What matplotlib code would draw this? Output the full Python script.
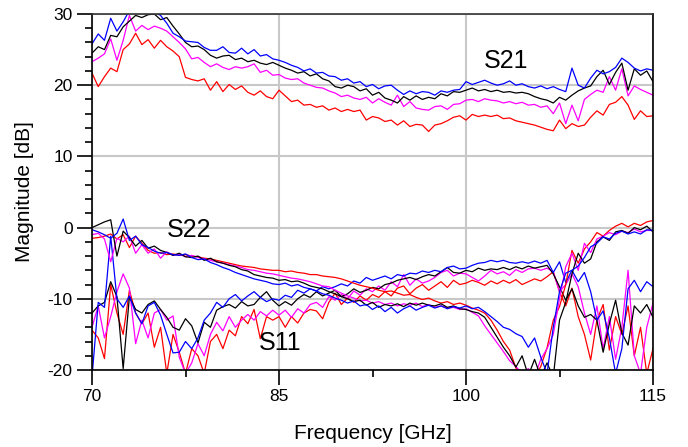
import numpy as np
import matplotlib.pyplot as plt
import matplotlib as mpl

# frequency sweep, 0.5 GHz step
freq = np.arange(70, 115.01, 0.5)

# S21 traces
s21_blue = [25.8, 27.2, 26.3, 29.4, 27.6, 28.9, 30.5, 30.2, 30.8, 30.4,
            30.3, 29.8, 28.7, 27.3, 26.8, 26.2, 26.1, 26.0, 25.3, 24.9,
            24.9, 25.4, 24.6, 24.5, 25.2, 24.4, 25.0, 24.1, 24.3, 23.7,
            23.5, 23.2, 22.8, 22.5, 22.0, 22.3, 21.7, 21.8, 21.3, 21.2,
            20.7, 20.9, 20.3, 20.5, 19.8, 20.1, 19.5, 19.9, 20.0, 19.3,
            18.7, 19.2, 18.8, 19.1, 19.0, 18.6, 19.2, 19.0, 19.3, 19.4,
            20.5, 20.1, 20.4, 20.7, 20.3, 20.0, 20.2, 20.6, 20.0, 20.2,
            19.8, 19.6, 19.9, 19.5, 19.8, 19.4, 19.1, 22.4, 20.0, 19.6,
            21.0, 22.1, 21.6, 21.9, 22.5, 23.8, 23.2, 22.4, 22.0, 22.3,
            22.1]
s21_black = [24.5, 25.4, 25.0, 27.0, 26.8, 28.2, 29.0, 29.8, 29.5, 29.9,
             30.0, 29.2, 29.5, 28.3, 27.2, 26.0, 25.4, 25.5, 25.0, 24.2,
             23.8, 24.1, 24.2, 23.6, 23.8, 23.3, 23.5, 23.1, 22.9, 23.2,
             22.8, 22.4, 22.1, 21.7, 21.9, 21.3, 21.6, 20.9, 20.6, 19.8,
             19.6, 20.0, 19.8, 19.2, 19.5, 18.6, 19.0, 18.2, 17.9, 17.5,
             18.4, 17.9, 18.5, 18.0, 18.3, 18.1, 18.8, 18.5, 19.1, 19.0,
             19.3, 19.6, 19.2, 19.4, 19.1, 19.3, 19.0, 19.1, 18.9, 19.0,
             18.8, 18.4, 18.1, 17.9, 17.5, 18.3, 17.9, 18.6, 19.2, 19.6,
             19.9, 21.2, 22.1, 20.1, 21.8, 23.1, 19.3, 22.3, 21.4, 22.0,
             20.5]
s21_magenta = [23.3, 23.8, 24.4, 26.5, 23.5, 26.3, 29.8, 27.6, 28.4, 27.8,
               28.3, 28.0, 27.6, 26.8, 26.0, 25.1, 23.7, 23.9, 23.2, 22.6,
               23.0, 22.5, 22.2, 22.6, 22.4, 22.6, 23.0, 21.8, 22.1, 21.4,
               21.5, 21.0, 20.8, 20.9, 20.3, 20.0, 19.7, 19.6, 19.2, 18.9,
               18.4, 18.6, 18.2, 18.0, 18.3, 17.5, 18.1, 17.6, 17.2, 18.6,
               17.0, 17.7, 16.8, 16.6, 16.5, 17.0, 17.1, 16.6, 17.3, 17.4,
               17.9, 18.0, 17.7, 18.1, 17.9, 17.8, 17.5, 17.7, 17.4, 17.6,
               17.2, 17.3, 16.9, 17.1, 16.0, 17.5, 14.6, 17.2, 15.0, 18.0,
               18.7, 19.3, 19.0, 21.2, 19.3, 22.3, 18.5, 19.9, 19.4, 19.0,
               18.6]
s21_red = [21.7, 19.8, 21.2, 22.4, 21.9, 25.0, 25.8, 27.3, 25.7, 26.4,
           25.2, 26.3, 25.4, 24.8, 24.0, 21.1, 20.8, 20.6, 20.9, 19.3,
           20.5, 19.1, 20.1, 19.4, 19.9, 19.0, 18.6, 19.2, 18.4, 18.1,
           19.3, 18.5, 17.7, 17.9, 17.2, 17.3, 16.9, 17.1, 16.5, 16.8,
           16.3, 16.6, 16.3, 16.5, 15.1, 15.6, 15.4, 14.9, 15.1, 14.4,
           15.0, 14.2, 14.5, 14.4, 13.5, 14.4, 14.6, 15.0, 15.5, 15.7,
           15.1, 15.9, 15.6, 15.8, 15.6, 15.8, 15.3, 15.4, 15.0, 14.8,
           14.6, 14.4, 14.1, 13.8, 13.6, 15.1, 13.9, 14.6, 14.2, 14.4,
           15.5, 16.4, 15.8, 17.3, 17.6, 18.4, 17.2, 15.2, 16.4, 15.6,
           15.7]

# S22 traces
s22_blue = [-0.3, -0.6, -1.0, -1.5, -0.8, 1.2, -1.8, -1.2, -2.4, -2.8,
            -3.3, -3.6, -3.5, -3.8, -3.9, -3.7, -4.2, -4.5, -4.4, -4.9,
            -5.2, -5.6, -5.9, -6.3, -6.6, -6.9, -7.2, -7.4, -7.6, -7.9,
            -8.0, -7.8, -8.2, -8.0, -8.4, -8.6, -8.9, -9.3, -9.5, -9.9,
            -10.2, -10.6, -10.3, -11.0, -10.8, -11.5, -11.0, -11.8, -11.2, -12.0,
            -11.4, -11.0, -11.6, -11.2, -10.9, -11.3, -11.0, -11.4, -11.1, -11.3,
            -11.0, -11.4, -11.2, -11.8, -12.5, -13.2, -14.0, -14.3, -14.9, -15.3,
            -16.8, -15.5, -18.2, -20.5, -14.0, -9.0, -6.4, -6.0, -5.4, -4.2,
            -2.7, -2.2, -1.3, -1.6, -0.8, -0.5, -0.9, -0.6, -0.9, -0.3,
            -0.4]
s22_black = [0.0, 0.4, 0.8, 1.1, -4.0, -0.5, -1.4, -2.6, -1.8, -2.9,
             -2.6, -3.2, -3.5, -3.9, -3.6, -4.1, -4.2, -4.0, -4.6, -4.3,
             -4.8, -5.0, -5.3, -5.5, -5.9, -6.1, -6.6, -6.8, -7.0, -7.1,
             -7.4, -7.3, -7.6, -7.5, -7.8, -8.2, -8.4, -8.6, -9.0, -9.3,
             -9.7, -10.0, -10.4, -10.2, -10.9, -10.5, -11.2, -10.8, -11.0, -10.7,
             -11.1, -10.6, -10.9, -10.6, -10.9, -11.0, -10.7, -11.2, -11.0, -11.4,
             -11.5, -11.8, -12.0, -12.6, -14.0, -15.4, -16.8, -18.0, -19.6, -18.0,
             -20.8, -18.5, -21.0, -19.0, -21.0, -13.0, -10.5, -6.5, -3.6, -5.0,
             -4.4, -2.0, -1.3, -1.8, -0.6, -0.4, -0.8, 0.0, -0.3, 0.2,
             -0.6]
s22_magenta = [-1.0, -0.8, -1.6, -4.8, -1.5, -2.0, -1.2, -3.6, -2.4, -3.6,
               -3.0, -4.3, -3.4, -3.9, -3.7, -4.1, -3.9, -4.2, -4.4, -4.6,
               -4.8, -5.0, -5.2, -5.4, -5.6, -5.9, -6.0, -6.2, -6.4, -6.5,
               -6.7, -6.9, -7.1, -7.2, -7.4, -7.6, -7.9, -8.2, -8.3, -8.8,
               -9.2, -9.6, -9.9, -10.3, -10.2, -10.6, -10.4, -10.8, -10.6, -11.0,
               -10.7, -10.9, -10.6, -11.1, -10.8, -11.2, -11.0, -11.3, -11.2, -11.5,
               -11.4, -11.9, -12.4, -13.8, -15.0, -16.2, -17.4, -18.7, -19.5, -20.5,
               -19.8, -21.0, -18.5, -17.0, -15.0, -10.0, -5.5, -3.6, -6.0, -2.2,
               -3.5, -1.6, -1.2, -0.7, -1.0, -0.5, -0.7, -0.2, -0.6, -0.4,
               -0.4]
s22_red = [-1.5, -1.4, -1.2, -0.9, -1.6, -1.0, -2.8, -1.2, -2.2, -3.2,
           -3.6, -3.5, -3.8, -3.7, -3.9, -3.8, -4.0, -4.1, -4.3, -4.4,
           -4.6, -4.8, -5.0, -5.2, -5.4, -5.5, -5.6, -5.8, -5.9, -6.0,
           -6.0, -6.2, -6.1, -6.3, -6.4, -6.6, -6.6, -6.8, -6.9, -7.0,
           -7.2, -7.5, -7.8, -8.1, -8.3, -8.5, -8.8, -9.0, -8.9, -9.2,
           -9.5, -9.4, -9.8, -10.1, -9.9, -10.3, -10.6, -10.4, -10.8, -10.6,
           -10.9, -11.3, -11.6, -12.0, -13.0, -14.4, -16.0, -17.2, -19.7, -21.0,
           -20.5, -21.0, -19.5, -16.9, -13.0, -11.1, -8.0, -3.2, -5.0, -3.0,
           -2.0, -0.7, -1.2, -0.4, 0.2, 0.6, 0.1, 0.6, 0.3, 0.8,
           1.0]

# S11 traces
s11_blue = [-21.0, -10.5, -11.2, -1.2, -10.0, -11.2, -9.6, -12.0, -13.5, -11.0,
            -10.5, -12.3, -15.0, -17.6, -17.5, -16.0, -17.0, -15.5, -13.0, -12.0,
            -10.5, -11.2, -10.0, -9.4, -10.3, -9.6, -9.0, -9.8, -10.4, -10.0,
            -10.2, -9.5, -9.8, -8.8, -9.2, -8.6, -8.9, -8.3, -8.6, -8.3,
            -7.9, -8.2, -7.5, -7.8, -7.0, -7.4, -7.1, -6.8, -7.2, -6.6,
            -6.8, -6.4, -6.5, -6.1, -6.3, -6.0, -6.2, -5.6, -5.4, -5.8,
            -5.7, -5.3, -5.0, -4.9, -4.6, -4.8, -4.6, -4.9, -5.0, -4.8,
            -5.0, -4.7, -5.0, -4.6, -6.3, -4.8, -7.7, -6.0, -7.6, -6.3,
            -9.0, -13.0, -11.7, -15.5, -20.5, -17.0, -8.6, -7.4, -9.0, -7.6,
            -8.3]
s11_black = [-12.0, -11.0, -10.5, -7.6, -9.7, -19.8, -9.7, -11.5, -12.0, -10.8,
             -10.3, -11.5, -12.6, -14.0, -14.4, -12.8, -13.8, -16.2, -13.3, -14.0,
             -11.6, -11.1, -10.8, -11.3, -10.4, -11.0, -10.8, -9.8, -9.0, -10.2,
             -11.0, -10.4, -10.9, -10.0, -9.4, -9.8, -9.0, -9.6, -9.2, -8.8,
             -9.7, -9.3, -8.6, -9.1, -8.8, -8.4, -8.6, -8.0, -7.8, -7.4,
             -7.2, -7.0, -7.3, -6.9, -6.6, -6.8, -6.2, -5.6, -6.3, -6.4,
             -6.0, -6.2, -5.7, -6.0, -5.8, -5.9, -5.6, -5.9, -5.5, -5.8,
             -5.4, -5.7, -5.5, -5.3, -6.5, -8.3, -10.2, -8.6, -11.0, -12.6,
             -12.2, -13.0, -17.5, -13.5, -10.2, -14.8, -16.5, -11.0, -12.0, -10.8,
             -12.6]
s11_magenta = [-14.0, -11.0, -15.5, -12.5, -9.0, -6.5, -8.5, -16.3, -13.0, -15.5,
               -12.0, -11.5, -13.0, -12.4, -18.2, -20.5, -19.0, -16.3, -18.0, -15.0,
               -13.3, -14.5, -12.5, -14.0, -13.0, -12.2, -13.0, -11.8, -12.4, -11.6,
               -12.3, -11.6, -12.6, -11.4, -12.0, -10.8, -10.5, -11.2, -9.7, -10.2,
               -9.4, -10.0, -8.9, -9.5, -8.6, -9.0, -8.2, -8.8, -7.6, -8.3,
               -6.6, -8.1, -7.2, -7.8, -7.5, -7.0, -6.3, -6.0, -6.8, -6.4,
               -6.5, -7.0, -7.5, -6.8, -6.0, -6.5, -6.2, -6.7, -5.9, -6.3,
               -5.8, -5.7, -6.0, -5.7, -6.2, -9.0, -8.0, -6.5, -8.3, -12.0,
               -15.0, -11.0, -17.0, -12.5, -18.5, -14.0, -6.0, -18.0, -20.5, -14.0,
               -10.6]
s11_red = [-14.4, -15.5, -18.4, -8.0, -12.0, -15.0, -8.8, -12.0, -13.5, -12.0,
           -16.8, -14.0, -20.5, -15.0, -17.5, -20.5, -17.0, -18.0, -20.5, -16.0,
           -15.0, -17.0, -14.4, -15.2, -12.5, -13.5, -11.5, -15.6, -12.5, -13.0,
           -12.5, -14.0, -12.5, -13.4, -12.0, -11.5, -11.7, -12.8, -10.5, -9.2,
           -10.8, -9.9, -10.5, -9.6, -10.2, -9.4, -9.8, -9.0, -9.6, -8.5,
           -8.2, -9.3, -8.5, -8.0, -8.8, -8.2, -7.6, -8.4, -7.4, -8.0,
           -7.8, -7.4, -7.7, -8.1, -7.5, -7.9, -7.4, -7.8, -7.3, -8.0,
           -7.6, -7.2, -7.5, -6.9, -6.2, -9.0, -11.0, -8.5, -12.5, -15.0,
           -18.6, -13.0, -10.8, -17.2, -12.5, -15.0, -11.0, -18.0, -14.0, -20.5,
           -17.0]

x_major = [70, 85, 100, 115]
x_minor = [77.5, 92.5, 107.5]


def main():
    mpl.rcParams['font.family'] = ['Liberation Sans', 'DejaVu Sans']
    mpl.rcParams['axes.unicode_minus'] = False

    fig = plt.figure(figsize=(6.88, 4.47), dpi=100)
    ax = fig.add_axes([92 / 688, 77 / 447, 561 / 688, 356 / 447])

    traces = [
        (s11_red, 'red'), (s11_magenta, 'magenta'), (s11_black, 'black'), (s11_blue, 'blue'),
        (s22_red, 'red'), (s22_magenta, 'magenta'), (s22_black, 'black'), (s22_blue, 'blue'),
        (s21_red, 'red'), (s21_magenta, 'magenta'), (s21_black, 'black'), (s21_blue, 'blue'),
    ]
    for vals, colour in traces:
        ax.plot(freq, vals, color=colour, lw=0.9)

    ax.set_xlim(70, 115)
    ax.set_ylim(-20, 30)
    ax.set_xticks(x_major)
    ax.set_xticks(x_minor, minor=True)
    ax.set_yticks(np.arange(-20, 31, 10))
    ax.set_yticks(np.arange(-20, 31, 2), minor=True)
    ax.set_axisbelow(True)
    ax.grid(True, which='major', color='#c8c8c8', lw=1.5)

    ax.tick_params(which='major', length=11, width=1.2, labelsize=12.5, pad=3)
    ax.tick_params(which='minor', length=5, width=1.2)
    for side in ['left', 'bottom', 'top', 'right']:
        ax.spines[side].set_linewidth(1.2)
    ax.spines['top'].set_color('#333333')

    ax.text(103.2, 23.4, 'S21', fontsize=18, ha='center', va='center')
    ax.text(77.8, -0.3, 'S22', fontsize=18, ha='center', va='center')
    ax.text(85.1, -16.2, 'S11', fontsize=18, ha='center', va='center')

    ax.set_xlabel('Frequency [GHz]', fontsize=15, labelpad=14)
    ax.set_ylabel('Magnitude [dB]', fontsize=15, labelpad=10)

    fig.savefig('out.png', dpi=100)


if __name__ == "__main__":
    main()
